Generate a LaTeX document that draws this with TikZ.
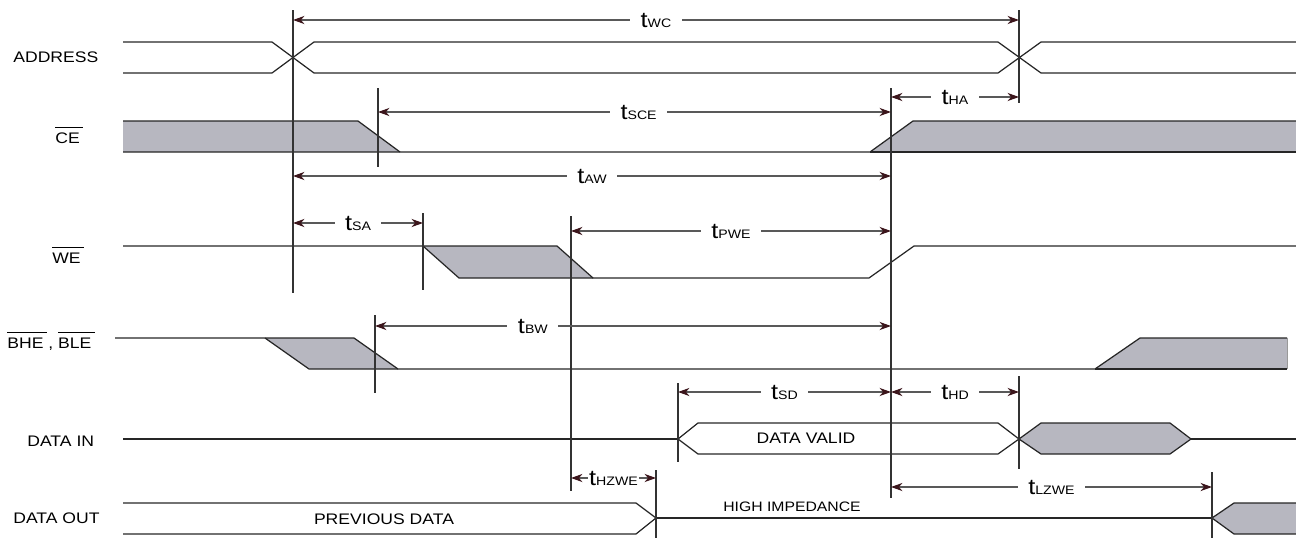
\documentclass[tikz,border=0pt]{standalone}
\usepackage{fontspec}
\setmainfont{Liberation Sans}[FakeStretch=1.15]
\usetikzlibrary{arrows.meta}

\definecolor{busyfill}{RGB}{183,183,192}
\definecolor{tipcol}{RGB}{60,22,28}

\newcommand{\ovl}[1]{\setbox0\hbox{#1}\rlap{\rule[8.6pt]{\dimexpr\wd0+2pt\relax}{0.5pt}}\box0\relax}
\newcommand{\tsub}[1]{{\fontsize{12.5}{12}\selectfont t}{\fontsize{7}{8}\selectfont #1}}

\tikzset{
  wave/.style={line width=0.7pt, draw=black!85},
  busy/.style={fill=busyfill},
  markline/.style={line width=0.7pt, draw=black!80},
  dim/.style={line width=0.7pt, draw=black!65,
    {Stealth[length=6.5pt, width=4.6pt, inset=2pt, color=tipcol]}-{Stealth[length=6.5pt, width=4.6pt, inset=2pt, color=tipcol]}},
  tlab/.style={fill=white, inner xsep=6pt, inner ysep=1pt},
  siglab/.style={anchor=base west, inner sep=0pt, font=\fontsize{8.7}{10}\selectfont},
}

\begin{document}
\begin{tikzpicture}[x=0.02cm, y=-0.02cm]
\useasboundingbox (0,0) rectangle (1296,538);

\coordinate (wc0) at (293,20);
\coordinate (wc1) at (1019,20);
\coordinate (sce0) at (378,112);
\coordinate (sce1) at (891,112);
\coordinate (ha0) at (891,97);
\coordinate (ha1) at (1019,97);
\coordinate (aw0) at (293,176);
\coordinate (aw1) at (891,176);
\coordinate (sa0) at (293,223);
\coordinate (sa1) at (423,223);
\coordinate (pwe0) at (571,231);
\coordinate (pwe1) at (891,231);
\coordinate (bw0) at (375,326);
\coordinate (bw1) at (891,326);
\coordinate (sd0) at (678,392);
\coordinate (sd1) at (891,392);
\coordinate (hd0) at (891,392);
\coordinate (hd1) at (1019,392);
\coordinate (hz0) at (571,478);
\coordinate (hz1) at (656,478);
\coordinate (lz0) at (891,487);
\coordinate (lz1) at (1212,487);

\node[siglab] (address) at (13,62) {ADDRESS};
\node[siglab] (ce) at (55,143) {\ovl{CE}};
\node[siglab] (we) at (52,263) {\ovl{WE}};
\node[siglab] (bhe) at (7,348) {\ovl{BHE} , \ovl{BLE}};
\node[siglab] (din) at (27,446) {DATA IN};
\node[siglab] (dout) at (13,523) {DATA OUT};

\fill[busy] (123,121) -- (358,121) -- (400,152) -- (123,152) -- cycle;
\fill[busy] (870,152) -- (913,121) -- (1296,121) -- (1296,152) -- cycle;
\fill[busy] (423,246) -- (557,246) -- (593,278) -- (459,278) -- cycle;
\fill[busy] (265,338) -- (354,338) -- (398,369) -- (309,369) -- cycle;
\fill[busy] (1095,369) -- (1140,338) -- (1287,338) -- (1287,369) -- cycle;
\fill[busy] (1019,439) -- (1041,423) -- (1170,423) -- (1191,439) -- (1170,454) -- (1041,454) -- cycle;
\fill[busy] (1296,503) -- (1234,503) -- (1212,518) -- (1234,534) -- (1296,534) -- cycle;

\draw[wave] (123,42) -- (272,42) -- (314,73) -- (998,73) -- (1041,42) -- (1296,42);
\draw[wave] (123,73) -- (272,73) -- (314,42) -- (998,42) -- (1041,73) -- (1296,73);

\draw[wave] (123,121) -- (358,121) -- (400,152);
\draw[wave] (123,152) -- (870,152) -- (913,121) -- (1296,121);
\draw[wave] (870,152) -- (1296,152);

\draw[wave] (123,246) -- (557,246) -- (593,278) -- (869,278) -- (914,246) -- (1296,246);
\draw[wave] (423,246) -- (459,278) -- (593,278);

\draw[wave] (115,338) -- (354,338) -- (398,369) -- (1095,369) -- (1140,338) -- (1287,338);
\draw[wave] (265,338) -- (309,369) -- (398,369);
\draw[wave] (1095,369) -- (1287,369);
\draw[line width=0.5pt, black!40] (1287,338) -- (1287,369);

\draw[wave] (123,439) -- (678,439);
\draw[wave] (678,439) -- (698,423) -- (998,423) -- (1019,439) -- (998,454) -- (698,454) -- cycle;
\draw[wave] (1019,439) -- (1041,423) -- (1170,423) -- (1191,439) -- (1170,454) -- (1041,454) -- cycle;
\draw[wave] (1191,439) -- (1296,439);
\node[siglab, anchor=center] (valid) at (806,438) {DATA VALID};

\draw[wave] (123,503) -- (636,503) -- (656,518) -- (636,534) -- (123,534);
\draw[wave] (656,518) -- (1212,518);
\draw[wave] (1296,503) -- (1234,503) -- (1212,518) -- (1234,534) -- (1296,534);
\node[siglab, anchor=center] (prev) at (384,519) {PREVIOUS DATA};
\node[siglab, anchor=center, font=\fontsize{7.8}{9}\selectfont] (hiz) at (792,507) {HIGH IMPEDANCE};

\draw[markline] (293,10) -- (293,293);
\draw[markline] (1019,10) -- (1019,103);
\draw[markline] (378,88) -- (378,167);
\draw[markline] (891,88) -- (891,498);
\draw[markline] (423,213) -- (423,290);
\draw[markline] (571,216) -- (571,491);
\draw[markline] (375,315) -- (375,393);
\draw[markline] (678,383) -- (678,462);
\draw[markline] (1019,376) -- (1019,469);
\draw[markline] (656,470) -- (656,538);
\draw[markline] (1212,472) -- (1212,538);

\draw[dim] (wc0) -- node[tlab] (twc) {\tsub{WC}} (wc1);
\draw[dim] (sce0) -- node[tlab, pos=0.508] (tsce) {\tsub{SCE}} (sce1);
\draw[dim] (ha0) -- node[tlab] (tha) {\tsub{HA}} (ha1);
\draw[dim] (aw0) -- node[tlab] (taw) {\tsub{AW}} (aw1);
\draw[dim] (sa0) -- node[tlab] (tsa) {\tsub{SA}} (sa1);
\draw[dim] (pwe0) -- node[tlab] (tpwe) {\tsub{PWE}} (pwe1);
\draw[dim] (bw0) -- node[tlab, pos=0.306] (tbw) {\tsub{BW}} (bw1);
\draw[dim] (sd0) -- node[tlab] (tsd) {\tsub{SD}} (sd1);
\draw[dim] (hd0) -- node[tlab] (thd) {\tsub{HD}} (hd1);
\draw[dim] (hz0) -- node[tlab, inner xsep=0.5pt] (thz) {\tsub{HZWE}} (hz1);
\draw[dim] (lz0) -- node[tlab] (tlz) {\tsub{LZWE}} (lz1);
\end{tikzpicture}
\end{document}
